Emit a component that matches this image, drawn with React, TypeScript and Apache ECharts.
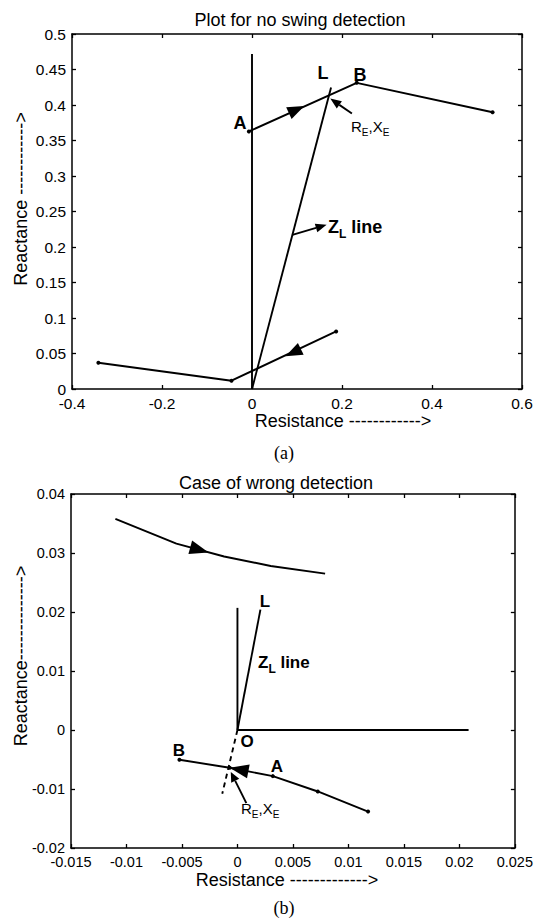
import React, { useEffect, useRef } from 'react';
import * as echarts from 'echarts';

const FONT = '"Liberation Sans", Arial, Helvetica, sans-serif';
const SERIF = '"Liberation Serif", "Times New Roman", Times, serif';

// ---------- Chart (a): Plot for no swing detection ----------
const aTitle = 'Plot for no swing detection';
const aXLabel = 'Resistance ------------>';
const aYLabel = 'Reactance ------------>';
const aCaption = '(a)';
const aXRange = [-0.4, 0.6, 0.2];
const aYRange = [0, 0.5, 0.05];
const aVertical = [[0, 0], [0, 0.472]];
const aZLine = [[0, 0], [0.1757, 0.4247]];
const aSwingUpper = [[-0.007, 0.3628], [0.2327, 0.4312], [0.5346, 0.3898]];
const aSwingLower = [[0.187, 0.0811], [-0.0456, 0.0117], [-0.3414, 0.037]];
// [tipX, tipY, fromX, fromY]
const aHeads = [[0.1163, 0.3986, -0.007, 0.3628], [0.0745, 0.046, 0.187, 0.0811]];
const aPointers = [[0.174, 0.409, 0.222, 0.388], [0.1658, 0.2312, 0.0897, 0.217]];

// ---------- Chart (b): Case of wrong detection ----------
const bTitle = 'Case of wrong detection';
const bXLabel = 'Resistance ------------->';
const bYLabel = 'Reactance-------------->';
const bCaption = '(b)';
const bXRange = [-0.015, 0.025, 0.005];
const bYRange = [-0.02, 0.04, 0.01];
const bVertical = [[0, 0], [0, 0.0207]];
const bZLine = [[0, 0], [0.00207, 0.0204]];
const bZLineExt = [[0, 0], [-0.00137, -0.01082]];
const bRAxis = [[0, 0], [0.02083, 0]];
const bSwingUpper = [[-0.011, 0.0358], [-0.0055, 0.0316], [-0.0012, 0.0294], [0.003, 0.0278], [0.0079, 0.0265]];
const bSwingLower = [[0.01177, -0.01382], [0.00724, -0.01042], [0.00319, -0.00782], [-0.0007, -0.0064], [-0.00523, -0.00504]];
const bHeads = [[-0.0026, 0.0301, -0.0055, 0.0316], [-0.0007, -0.0064, 0.00319, -0.00782]];
const bPointers = [[-0.0006, -0.0071, 0.0008, -0.0124]];

const BLACK = '#000';

function axisBase(fontSize: number, showLabel: boolean) {
  return {
    type: 'value',
    axisLine: { show: true, onZero: false, lineStyle: { color: BLACK, width: 1.5 } },
    axisTick: { show: true, inside: true, length: 4, lineStyle: { color: BLACK, width: 1.3 } },
    axisLabel: {
      show: showLabel, color: BLACK, fontSize, fontFamily: FONT, margin: 6,
      showMinLabel: true, showMaxLabel: true, hideOverlap: false,
    },
    splitLine: { show: false },
  };
}

function lineSeries(data: number[][], ax: number, opts: any = {}) {
  return {
    type: 'line', data, xAxisIndex: ax, yAxisIndex: ax, silent: true,
    symbol: 'circle', symbolSize: 4, showSymbol: opts.showSymbol ?? false,
    lineStyle: { color: BLACK, width: 1.9, type: opts.dashed ? [5, 4] : 'solid' },
    itemStyle: { color: BLACK }, z: 3,
  };
}

function headSeries(data: number[][], ax: number, L: number, W: number) {
  return {
    type: 'custom', xAxisIndex: ax, yAxisIndex: ax, silent: true, data, z: 5,
    renderItem: (_p: any, api: any) => {
      const tip = api.coord([api.value(0), api.value(1)]);
      const from = api.coord([api.value(2), api.value(3)]);
      const dx = tip[0] - from[0], dy = tip[1] - from[1];
      const len = Math.hypot(dx, dy) || 1;
      const ux = dx / len, uy = dy / len;
      const bx = tip[0] - ux * L, by = tip[1] - uy * L;
      return {
        type: 'polygon',
        shape: { points: [tip, [bx - uy * W, by + ux * W], [bx + uy * W, by - ux * W]] },
        style: { fill: BLACK },
      };
    },
  };
}

function pointerSeries(data: number[][], ax: number, L: number, W: number) {
  return {
    type: 'custom', xAxisIndex: ax, yAxisIndex: ax, silent: true, data, z: 5,
    renderItem: (_p: any, api: any) => {
      const tip = api.coord([api.value(0), api.value(1)]);
      const tail = api.coord([api.value(2), api.value(3)]);
      const dx = tip[0] - tail[0], dy = tip[1] - tail[1];
      const len = Math.hypot(dx, dy) || 1;
      const ux = dx / len, uy = dy / len;
      const bx = tip[0] - ux * L, by = tip[1] - uy * L;
      return {
        type: 'group',
        children: [
          { type: 'line', shape: { x1: tail[0], y1: tail[1], x2: bx, y2: by }, style: { stroke: BLACK, lineWidth: 1.9 } },
          { type: 'polygon', shape: { points: [tip, [bx - uy * W, by + ux * W], [bx + uy * W, by - ux * W]] }, style: { fill: BLACK } },
        ],
      };
    },
  };
}

function txt(x: number, y: number, text: string, size: number, opts: any = {}) {
  return {
    type: 'text', x, y, rotation: opts.rotation || 0, silent: true, z: 10,
    style: {
      text, fill: BLACK,
      font: `${opts.bold ? 'bold ' : ''}${size}px ${opts.family || FONT}`,
      fontSize: size, fontWeight: opts.bold ? 'bold' : 'normal', fontFamily: opts.family || FONT,
      align: opts.align || 'center', textAlign: opts.align || 'center',
      verticalAlign: 'middle', textVerticalAlign: 'middle',
    },
  };
}

function subText(x: number, y: number, text: string, size: number, subSize: number, bold: boolean) {
  const w = bold ? 'bold' : 'normal';
  return {
    type: 'text', x, y, silent: true, z: 10,
    style: {
      text, fill: BLACK, align: 'left', textAlign: 'left', verticalAlign: 'middle', textVerticalAlign: 'middle',
      rich: {
        m: { fontSize: size, fontWeight: w, fontFamily: FONT, lineHeight: size + 8, verticalAlign: 'middle', fill: BLACK, color: BLACK },
        s: { fontSize: subSize, fontWeight: w, fontFamily: FONT, lineHeight: subSize + 1, verticalAlign: 'bottom', fill: BLACK, color: BLACK },
      },
    },
  };
}

export default function App() {
  const ref = useRef<HTMLDivElement>(null);
  useEffect(() => {
    if (!ref.current) return;
    const chart = echarts.init(ref.current, undefined, { renderer: 'svg' });
    const option: any = {
      animation: false,
      backgroundColor: '#fff',
      grid: [
        { left: 72, top: 34, width: 450, height: 355 },
        { left: 71, top: 494, width: 449, height: 354 },
      ],
      xAxis: [
        { ...axisBase(15.5, true), gridIndex: 0, position: 'bottom', min: aXRange[0], max: aXRange[1], interval: aXRange[2] },
        { ...axisBase(15.5, false), gridIndex: 0, position: 'top', min: aXRange[0], max: aXRange[1], interval: aXRange[2] },
        { ...axisBase(14.5, true), gridIndex: 1, position: 'bottom', min: bXRange[0], max: bXRange[1], interval: bXRange[2] },
        { ...axisBase(14.5, false), gridIndex: 1, position: 'top', min: bXRange[0], max: bXRange[1], interval: bXRange[2] },
      ],
      yAxis: [
        { ...axisBase(15.5, true), gridIndex: 0, position: 'left', min: aYRange[0], max: aYRange[1], interval: aYRange[2] },
        { ...axisBase(15.5, false), gridIndex: 0, position: 'right', min: aYRange[0], max: aYRange[1], interval: aYRange[2] },
        { ...axisBase(14.5, true), gridIndex: 1, position: 'left', min: bYRange[0], max: bYRange[1], interval: bYRange[2] },
        { ...axisBase(14.5, false), gridIndex: 1, position: 'right', min: bYRange[0], max: bYRange[1], interval: bYRange[2] },
      ],
      series: [
        lineSeries(aVertical, 0),
        lineSeries(aZLine, 0),
        lineSeries(aSwingUpper, 0, { showSymbol: true }),
        lineSeries(aSwingLower, 0, { showSymbol: true }),
        headSeries(aHeads, 0, 17, 6.5),
        pointerSeries(aPointers, 0, 11, 4.5),
        lineSeries(bVertical, 2),
        lineSeries(bZLine, 2),
        lineSeries(bZLineExt, 2, { dashed: true }),
        lineSeries(bRAxis, 2),
        lineSeries(bSwingUpper, 2),
        lineSeries(bSwingLower, 2, { showSymbol: true }),
        headSeries(bHeads, 2, 19, 7),
        pointerSeries(bPointers, 2, 10, 4.5),
      ],
      graphic: [
        // chart (a)
        txt(300, 20, aTitle, 18),
        txt(343, 421, aXLabel, 18),
        txt(21, 199, aYLabel, 18, { rotation: Math.PI / 2 }),
        txt(284, 453, aCaption, 18, { family: SERIF }),
        txt(240, 123, 'A', 18, { bold: true }),
        txt(360, 75, 'B', 18, { bold: true }),
        txt(323, 73, 'L', 18, { bold: true }),
        subText(351, 126, '{m|R}{s|E}{m|,X}{s|E}', 15, 10, false),
        subText(328, 227, '{m|Z}{s|L}{m| line}', 18, 12, true),
        // chart (b)
        txt(276, 483, bTitle, 18),
        txt(287, 880, bXLabel, 18),
        txt(21, 656, bYLabel, 18, { rotation: Math.PI / 2 }),
        txt(284, 908, bCaption, 18, { family: SERIF }),
        txt(265, 601, 'L', 17, { bold: true }),
        subText(258, 662, '{m|Z}{s|L}{m| line}', 17, 12, true),
        txt(179, 750, 'B', 17, { bold: true }),
        txt(247, 741, 'O', 17, { bold: true }),
        txt(277, 766, 'A', 17, { bold: true }),
        subText(241, 808, '{m|R}{s|E}{m|,X}{s|E}', 15, 10, false),
      ],
    };
    chart.setOption(option);
    return () => chart.dispose();
  }, []);
  return (
    <div
      ref={ref}
      style={{ position: 'fixed', left: 0, top: 0, width: 536, height: 918, background: '#fff' }}
    />
  );
}
